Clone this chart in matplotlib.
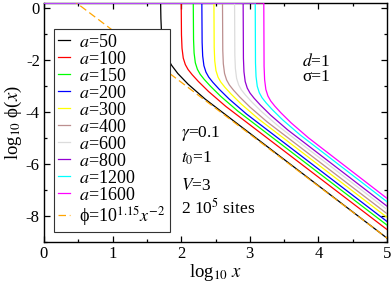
import matplotlib
matplotlib.use("Agg")
import matplotlib.pyplot as plt
from matplotlib.ticker import MultipleLocator
import numpy as np

plt.rcParams['font.family'] = ['Liberation Serif', 'DejaVu Serif']
plt.rcParams['mathtext.fontset'] = 'stix'
plt.rcParams['axes.unicode_minus'] = False

# ---- data (log10 x, log10 phi) ----
labels = ["50", "100", "150", "200", "300", "400", "600", "800", "1200", "1600"]
colors = ["#000000", "#ff0000", "#00ff00", "#0000ff", "#ffff00",
          "#bc8f8f", "#dcdcdc", "#9400d3", "#00ffff", "#ff00ff"]

logx_50 = [0, 1.70, 1.704, 1.712, 1.73, 1.76, 1.80, 1.86, 1.95, 2.10, 2.35, 5]
logy_50 = [0.2, 0.2, -0.395, -0.882, -1.303, -1.642, -1.915, -2.198, -2.512, -2.924, -3.501, -8.85]
logx_100 = [0, 2.0, 2.004, 2.012, 2.03, 2.06, 2.10, 2.16, 2.25, 2.40, 2.65, 5]
logy_100 = [0.2, 0.2, -1.028, -1.544, -1.92, -2.17, -2.36, -2.56, -2.82, -3.21, -3.78, -8.52]
logx_150 = [0, 2.176, 2.18, 2.188, 2.206, 2.236, 2.276, 2.336, 2.426, 2.576, 2.826, 5]
logy_150 = [0.2, 0.2, -1.21, -1.726, -2.102, -2.352, -2.542, -2.742, -3.002, -3.392, -3.962, -8.35]
logx_200 = [0, 2.301, 2.305, 2.313, 2.331, 2.361, 2.401, 2.461, 2.551, 2.701, 2.951, 5]
logy_200 = [0.2, 0.2, -1.32, -1.836, -2.212, -2.462, -2.652, -2.852, -3.112, -3.502, -4.072, -8.21]
logx_300 = [0, 2.477, 2.481, 2.489, 2.507, 2.537, 2.577, 2.637, 2.727, 2.877, 3.127, 5]
logy_300 = [0.2, 0.2, -1.512, -2.028, -2.404, -2.654, -2.844, -3.044, -3.304, -3.694, -4.264, -8.05]
logx_400 = [0, 2.602, 2.606, 2.614, 2.632, 2.662, 2.702, 2.762, 2.852, 3.002, 3.252, 5]
logy_400 = [0.2, 0.2, -1.622, -2.138, -2.514, -2.764, -2.954, -3.154, -3.414, -3.804, -4.374, -7.91]
logx_600 = [0, 2.778, 2.782, 2.79, 2.808, 2.838, 2.878, 2.938, 3.028, 3.178, 3.428, 5]
logy_600 = [0.2, 0.2, -1.814, -2.33, -2.706, -2.956, -3.146, -3.346, -3.606, -3.996, -4.566, -7.75]
logx_800 = [0, 2.903, 2.907, 2.915, 2.933, 2.963, 3.003, 3.063, 3.153, 3.303, 3.553, 5]
logy_800 = [0.2, 0.2, -1.934, -2.45, -2.826, -3.076, -3.266, -3.466, -3.726, -4.116, -4.686, -7.62]
logx_1200 = [0, 3.079, 3.083, 3.091, 3.109, 3.139, 3.179, 3.239, 3.329, 3.479, 3.729, 5]
logy_1200 = [0.2, 0.2, -2.116, -2.632, -3.008, -3.258, -3.448, -3.648, -3.908, -4.298, -4.868, -7.45]
logx_1600 = [0, 3.204, 3.208, 3.216, 3.234, 3.264, 3.304, 3.364, 3.454, 3.604, 3.854, 5]
logy_1600 = [0.2, 0.2, -2.236, -2.752, -3.128, -3.378, -3.568, -3.768, -4.028, -4.418, -4.988, -7.32]

series_x = [logx_50, logx_100, logx_150, logx_200, logx_300,
            logx_400, logx_600, logx_800, logx_1200, logx_1600]
series_y = [logy_50, logy_100, logy_150, logy_200, logy_300,
            logy_400, logy_600, logy_800, logy_1200, logy_1600]

# fit line phi = 10^1.15 x^-2
fit_logA = 1.15
fit_slope = -2.0
fit_logx = [0.0, 5.0]

xticks = [0, 1, 2, 3, 4, 5]
yticks = [0, -2, -4, -6, -8]

# ---- figure ----
fig = plt.figure(figsize=(3.92, 2.84), dpi=100)
ax = fig.add_axes([44/392, 42/284, 343/392, 239/284])

handles = []
for xs, ys, c, lab in zip(series_x, series_y, colors, labels):
    h, = ax.plot(xs, ys, color=c, lw=0.9, solid_joinstyle='round',
                 label=r"$a$=" + lab, zorder=3)
    handles.append(h)

fx = np.array(fit_logx)
hf, = ax.plot(fx, fit_logA + fit_slope * fx, color="#ffa500", lw=0.9,
              dashes=(6, 3), label=r"ϕ=10$^{1.15}$$x^{-2}$", zorder=3)
handles.append(hf)

ax.set_xlim(0, 5)
ax.set_ylim(-9, 0.2)
ax.set_xticks(xticks)
ax.set_yticks(yticks)
ax.xaxis.set_minor_locator(MultipleLocator(0.5))
ax.yaxis.set_minor_locator(MultipleLocator(1))
ax.tick_params(which='both', direction='in', top=True, right=True,
               labelsize=12, width=0.9)
ax.tick_params(which='major', length=4.3)
ax.tick_params(which='minor', length=2.2)
ax.tick_params(axis='x', pad=3)
ax.tick_params(axis='y', pad=3)
for s in ax.spines.values():
    s.set_linewidth(1.0)

ax.set_xlabel(r"log$_{10}$ $x$", fontsize=13.5, labelpad=0)
ax.set_ylabel(r"log$_{10}$ ϕ($x$)", fontsize=13.5, labelpad=1)

leg = ax.legend(handles=handles, loc='upper left',
                bbox_to_anchor=(0.029, 0.891), borderaxespad=0,
                fontsize=13, frameon=True, fancybox=False,
                framealpha=1, edgecolor='#333333',
                handlelength=0.66, handletextpad=0.45,
                labelspacing=0.0, borderpad=0.25)
leg.get_frame().set_linewidth(0.8)
leg.set_zorder(5)

ax.text(3.76, -2.23, r"$d$=1", fontsize=12.5)
ax.text(3.76, -2.79, "σ=1", fontsize=12.5)
ax.text(2.0, -4.97, r"$\gamma$=0.1", fontsize=12.5)
ax.text(2.0, -5.95, r"$t_0$=1", fontsize=12.5)
ax.text(2.0, -7.0, r"$V$=3", fontsize=12.5)
ax.text(2.0, -7.9, r"2 10$^5$ sites", fontsize=12.5)

fig.savefig("out.png", dpi=100)
